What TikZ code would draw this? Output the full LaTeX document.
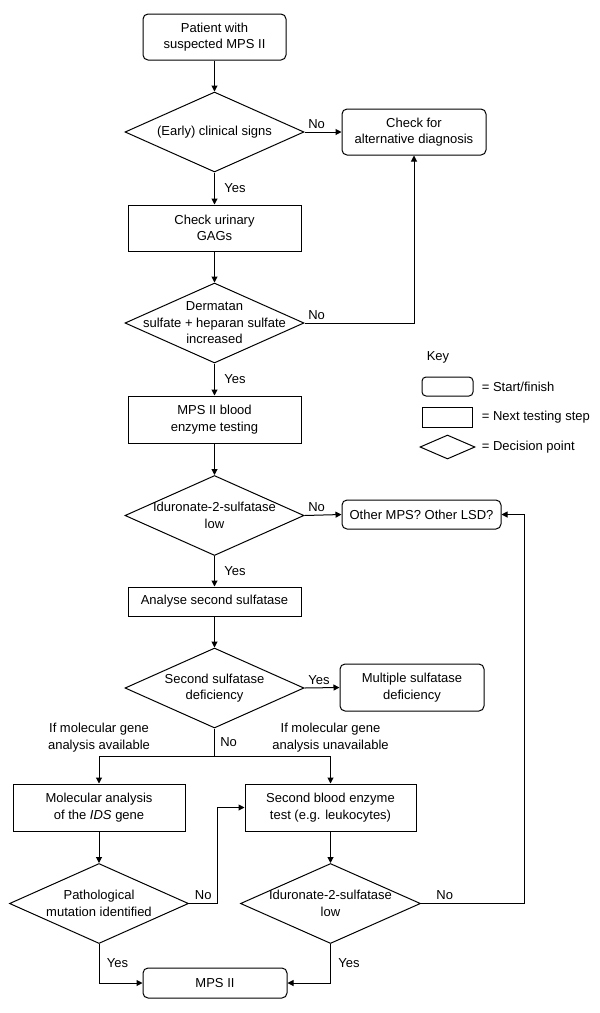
\documentclass[tikz,border=0pt]{standalone}
\usepackage{fontspec}
\setmainfont{Liberation Sans}
\usetikzlibrary{shapes.geometric,arrows.meta}

\begin{document}
\begin{tikzpicture}[x=1pt, y=-1pt, line width=1pt, >={Triangle[length=6pt,width=6pt]},
		every node/.style={font=\fontsize{13}{16.5}\selectfont},
		terminal/.style={draw, rounded corners=5pt, align=center, inner sep=0pt},
		stepbox/.style={draw, align=center, inner sep=0pt},
		decision/.style={draw, diamond, inner sep=0pt, minimum width=179pt, minimum height=80pt},
		dtext/.style={label={[align=center]center:#1}}]

		\useasboundingbox (0,0) rectangle (600,1013);

		\node[terminal, minimum width=143pt, minimum height=46pt] (start) at (214.5,37) {Patient with\\suspected MPS II};
		\node[decision, dtext={(Early) clinical signs}] (d1) at (214.5,132) {};
		\node[terminal, minimum width=144pt, minimum height=46pt] (alt) at (414,132) {Check for\\alternative diagnosis};
		\node[stepbox, minimum width=173pt, minimum height=46pt] (gags) at (214.5,228) {Check urinary\\GAGs};
		\node[decision, dtext={Dermatan\\sulfate + heparan sulfate\\increased}] (d2) at (214.5,323) {};
		\node[stepbox, minimum width=173pt, minimum height=47pt] (blood) at (214.5,419.5) {MPS II blood\\enzyme testing};
		\node[decision, dtext={Iduronate-2-sulfatase\\low}] (d3) at (214.5,515.5) {};
		\node[terminal, minimum width=159pt, minimum height=29pt] (other) at (421.5,514.5) {Other MPS? Other LSD?};
		\node[stepbox, minimum width=173pt, minimum height=29pt] (anal) at (214.5,601.5) {Analyse second sulfatase};
		\node[decision, dtext={Second sulfatase\\deficiency}] (d4) at (214.5,688) {};
		\node[terminal, minimum width=144pt, minimum height=47pt] (msd) at (412,687.5) {Multiple sulfatase\\deficiency};
		\coordinate (split) at (214.5,756);
		\node[stepbox, minimum width=172pt, minimum height=47pt] (mol) at (99,807.5) {Molecular analysis\\of the \textit{IDS} gene};
		\node[stepbox, minimum width=171pt, minimum height=47pt] (sec) at (330.5,807.5) {Second blood enzyme\\test (e.g. leukocytes)};
		\node[decision, dtext={Pathological\\mutation identified}] (ld) at (99,903.5) {};
		\node[decision, minimum width=180pt, dtext={Iduronate-2-sulfatase\\low}] (rd) at (330.5,903.5) {};
		\node[terminal, minimum width=144pt, minimum height=30pt] (mps) at (215,983) {MPS II};

		\node (key) at (438,357) {Key};
		\node[terminal, rounded corners=4pt, minimum width=51pt, minimum height=19pt] (kstart) at (447.5,386.5) {};
		\node[stepbox, minimum width=50pt, minimum height=20pt] (kstep) at (447,417) {};
		\node[decision, minimum width=55pt, minimum height=24pt] (kdec) at (447.5,447) {};
		\node[anchor=west] (kstarttxt) at (478,386.5) {= Start/finish};
		\node[anchor=west] (ksteptxt) at (478,417) {= Next testing step};
		\node[anchor=west] (kdectxt) at (478,447) {= Decision point};

		\draw[->] (start) -- (d1);
		\draw[->] (d1.east) node[above right] {No} -- (alt.west);
		\draw[->] (d1.south) -- (gags.north) node[midway, right=6pt] {Yes};
		\draw[->] (gags) -- (d2);
		\draw[->] (d2.east) node[above right] {No} -| (alt.south);
		\draw[->] (d2.south) -- (blood.north) node[midway, right=6pt] {Yes};
		\draw[->] (blood) -- (d3);
		\draw[->] (d3.east) node[above right] {No} -- (other.west);
		\draw[->] (d3.south) -- (anal.north) node[midway, right=6pt] {Yes};
		\draw[->] (anal) -- (d4);
		\draw[->] (d4.east) node[above right] {Yes} -- (msd.west);
		\draw (d4.south) -- (split) node[midway, right=2pt] {No};
		\draw[->] (split) -| (mol.north) node[pos=0.5, above, align=center] {If molecular gene\\analysis available};
		\draw[->] (split) -| (sec.north) node[pos=0.5, above, align=center] {If molecular gene\\analysis unavailable};
		\draw[->] (mol) -- (ld);
		\draw[->] (sec) -- (rd);
		\draw[->] (ld.east) -- ++(28.5,0) node[midway, above] {No} |- (sec.west);
		\draw[->] (rd.east) -- ++(103,0) node[pos=0.23, above] {No} |- (other.east);
		\draw[->] (ld.south) |- (mps.west) node[pos=0.25, right=4pt] {Yes};
		\draw[->] (rd.south) |- (mps.east) node[pos=0.25, right=4pt] {Yes};
	\end{tikzpicture}
\end{document}
